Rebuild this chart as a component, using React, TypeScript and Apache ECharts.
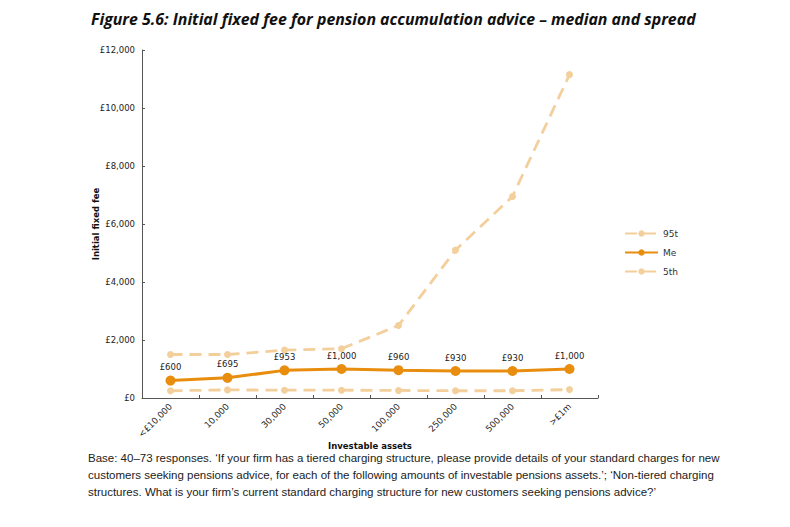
import React, { useEffect, useRef } from "react";
import * as echarts from "echarts";

const categories = ["<£10,000", "10,000", "30,000", "50,000", "100,000", "250,000", "500,000", ">£1m"];
const p95 = [1500, 1500, 1650, 1700, 2500, 5100, 6950, 11150];
const median = [600, 695, 953, 1000, 960, 930, 930, 1000];
const p5 = [250, 280, 270, 270, 260, 250, 250, 290];
const seriesNames = ["95th percentile", "Median", "5th percentile"];

const titleText = "Figure 5.6: Initial fixed fee for pension accumulation advice – median and spread";
const footnoteLines = [
  "Base: 40–73 responses. ‘If your firm has a tiered charging structure, please provide details of your standard charges for new",
  "customers seeking pensions advice, for each of the following amounts of investable pensions assets.’; ‘Non-tiered charging",
  "structures. What is your firm’s current standard charging structure for new customers seeking pensions advice?’",
];

const axisFont = "'DejaVu Sans', Verdana, sans-serif";
const lightColor = "#F3CF9C";
const darkColor = "#E88D0E";

export default function App() {
  const ref = useRef<HTMLDivElement>(null);
  useEffect(() => {
    if (!ref.current) return;
    const chart = echarts.init(ref.current, null, { renderer: "svg" });
    const fmt = (v: number) => "£" + v.toLocaleString("en-GB");
    chart.setOption({
      animation: false,
      backgroundColor: "#ffffff",
      title: {
        text: titleText,
        left: 86,
        top: 6,
        textStyle: {
          fontFamily: "'Open Sans', 'Noto Sans', sans-serif",
          fontStyle: "italic",
          fontWeight: "bold",
          fontSize: 15.9,
          color: "#111",
        },
      },
      legend: {
        orient: "vertical",
        left: 619,
        top: 224,
        itemGap: 10,
        itemWidth: 33,
        itemHeight: 8,
        data: seriesNames,
        textStyle: {
          fontFamily: axisFont,
          fontSize: 9,
          color: "#333",
          width: 18,
          overflow: "truncate",
          ellipsis: "",
        },
      },
      grid: { left: 142, right: 192, top: 50, bottom: 129 },
      xAxis: {
        type: "category",
        data: categories,
        boundaryGap: true,
        name: "Investable assets",
        nameLocation: "middle",
        nameGap: 43,
        nameMoveOverlap: false,
        nameTextStyle: { fontFamily: axisFont, fontSize: 8.5, fontWeight: "bold", color: "#111" },
        axisLine: { lineStyle: { color: "#555", width: 1 } },
        axisTick: { show: true, inside: true, length: 3, lineStyle: { color: "#555" } },
        axisLabel: {
          rotate: 45,
          fontFamily: axisFont,
          fontSize: 8.7,
          color: "#222",
          margin: 7,
        },
      },
      yAxis: {
        type: "value",
        min: 0,
        max: 12000,
        interval: 2000,
        name: "Initial fixed fee",
        nameLocation: "middle",
        nameGap: 42,
        nameMoveOverlap: false,
        nameTextStyle: { fontFamily: axisFont, fontSize: 8.5, fontWeight: "bold", color: "#111" },
        splitLine: { show: false },
        axisLine: { show: true, lineStyle: { color: "#555", width: 1 } },
        axisTick: { show: true, inside: true, length: 3, lineStyle: { color: "#555" } },
        axisLabel: {
          formatter: (v: number) => fmt(v),
          fontFamily: axisFont,
          fontSize: 8.5,
          color: "#222",
          margin: 7,
        },
      },
      series: [
        {
          name: seriesNames[0],
          type: "line",
          data: p95,
          symbol: "circle",
          symbolSize: 7,
          lineStyle: { color: lightColor, width: 2.8, type: [12, 7] },
          itemStyle: { color: lightColor },
        },
        {
          name: seriesNames[1],
          type: "line",
          data: median,
          symbol: "circle",
          symbolSize: 10,
          lineStyle: { color: darkColor, width: 3 },
          itemStyle: { color: darkColor },
          label: {
            show: true,
            position: "top",
            distance: 4,
            formatter: (p: any) => fmt(p.value),
            fontFamily: axisFont,
            fontSize: 8.5,
            color: "#222",
          },
          z: 3,
        },
        {
          name: seriesNames[2],
          type: "line",
          data: p5,
          symbol: "circle",
          symbolSize: 7,
          lineStyle: { color: lightColor, width: 2.8, type: [12, 7] },
          itemStyle: { color: lightColor },
        },
      ],
      graphic: footnoteLines.map((line, i) => ({
        type: "text",
        left: 88,
        top: 452 + i * 17,
        style: {
          text: line,
          font: "11.5px 'Liberation Sans', Arial, sans-serif",
          fill: "#222",
        },
      })),
    });
    return () => chart.dispose();
  }, []);
  return <div ref={ref} style={{ width: 790, height: 527, position: "absolute", left: 0, top: 0 }} />;
}
